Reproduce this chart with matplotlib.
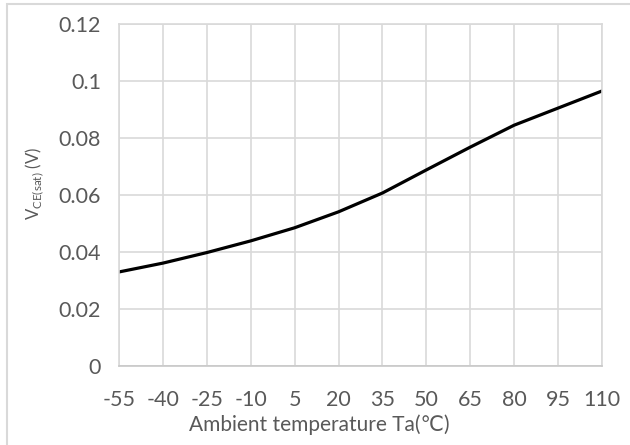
import matplotlib
matplotlib.use("Agg")
import matplotlib.pyplot as plt
from matplotlib.patches import Rectangle

# saturation voltage vs ambient temperature
temps = [-55, -40, -25, -10, 5, 20, 35, 50, 65, 80, 95, 110]
vce_sat = [0.0330, 0.0361, 0.0398, 0.0439, 0.0485, 0.0541,
           0.0607, 0.0688, 0.0768, 0.0845, 0.0905, 0.0965]
yticks = [0, 0.02, 0.04, 0.06, 0.08, 0.1, 0.12]
ytick_labels = ["0", "0.02", "0.04", "0.06", "0.08", "0.1", "0.12"]

plt.rcParams['font.family'] = ['Lato', 'DejaVu Sans']
plt.rcParams['mathtext.fontset'] = 'custom'
plt.rcParams['mathtext.rm'] = 'Lato'
txt = '#595959'
grid = '#d9d9d9'

fig = plt.figure(figsize=(6.3, 4.45), dpi=100)
ax = fig.add_axes([119/630, 1-366/445, (602-119)/630, (366-24)/445])

ax.plot(temps, vce_sat, color='black', lw=2.3, solid_joinstyle='round')

ax.set_xlim(temps[0], temps[-1])
ax.set_ylim(0, 0.12)
ax.set_xticks(temps)
ax.set_xticklabels([str(t) for t in temps])
ax.set_yticks(yticks)
ax.set_yticklabels(ytick_labels)
ax.grid(True, color=grid, lw=1.2)
ax.set_axisbelow(True)
ax.tick_params(length=0, labelsize=15.5, colors=txt)
ax.tick_params(axis='x', pad=17)
ax.tick_params(axis='y', pad=13)
for s in ax.spines.values():
    s.set_color(grid)
    s.set_linewidth(1.2)
ax.spines['bottom'].set_color('#c8c8c8')

fig.text(319/630, 1-425/445, 'Ambient temperature Ta(\u2103)', ha='center',
         va='center', fontsize=15, color=txt)
fig.text(35/630, 1-183/445, r'V$_{\mathrm{CE(sat)}}$ (V)', rotation=90,
         ha='center', va='center', fontsize=12, color=txt)

# outer chart frame
fig.patches.append(Rectangle((7/630, -0.1), 1.0, 1-4/445+0.1,
                             transform=fig.transFigure, fill=False,
                             edgecolor='#d9d9d9', lw=1.5))

fig.savefig('out.png', dpi=100)
